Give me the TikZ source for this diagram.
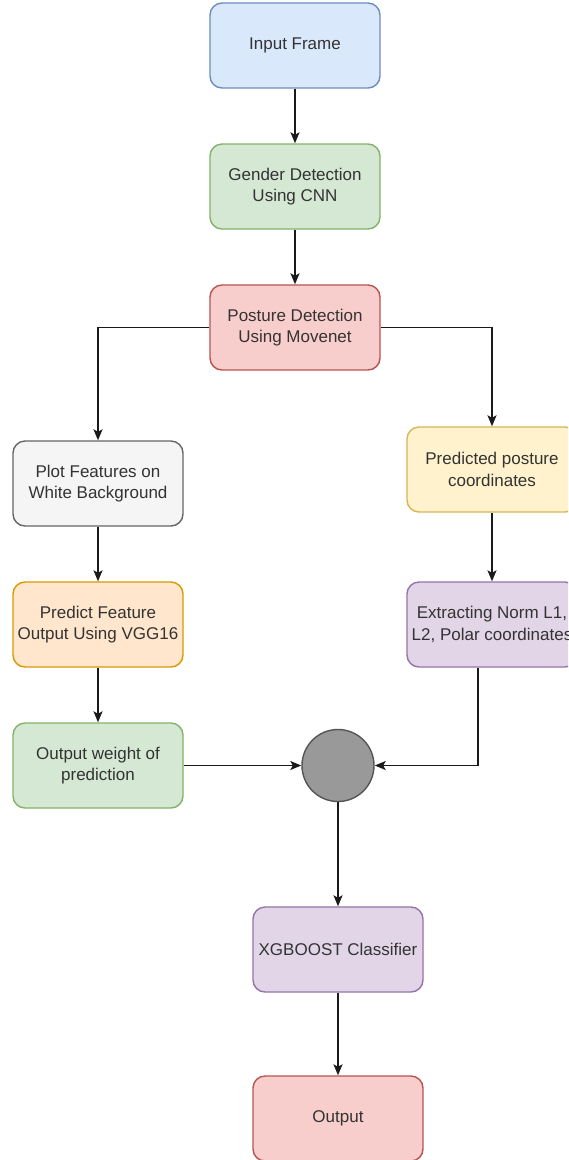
\documentclass[tikz,border=0pt]{standalone}
\usepackage{fontspec}
\setmainfont{Liberation Sans}
\usetikzlibrary{arrows.meta,positioning}

% drawio-style palette
\definecolor{blueF}{HTML}{DAE8FC}\definecolor{blueD}{HTML}{6C8EBF}
\definecolor{greenF}{HTML}{D5E8D4}\definecolor{greenD}{HTML}{82B366}
\definecolor{redF}{HTML}{F8CECC}\definecolor{redD}{HTML}{B85450}
\definecolor{greyF}{HTML}{F5F5F5}\definecolor{greyD}{HTML}{666666}
\definecolor{yellowF}{HTML}{FFF2CC}\definecolor{yellowD}{HTML}{D6B656}
\definecolor{orangeF}{HTML}{FFE6CC}\definecolor{orangeD}{HTML}{D79B00}
\definecolor{purpleF}{HTML}{E1D5E7}\definecolor{purpleD}{HTML}{9673A6}
\definecolor{circF}{HTML}{999999}\definecolor{circD}{HTML}{555555}
\definecolor{txt}{HTML}{333333}
\definecolor{wire}{HTML}{1A1A1A}

\tikzset{
  procbox/.style={draw, line width=1.4pt, rounded corners=12pt,
    minimum width=170pt, minimum height=85pt, inner sep=0pt,
    align=center, text=txt, font=\fontsize{17}{21.5}\selectfont},
  blueBox/.style={procbox, fill=blueF, draw=blueD},
  greenBox/.style={procbox, fill=greenF, draw=greenD},
  redBox/.style={procbox, fill=redF, draw=redD},
  greyBox/.style={procbox, fill=greyF, draw=greyD},
  yellowBox/.style={procbox, fill=yellowF, draw=yellowD},
  orangeBox/.style={procbox, fill=orangeF, draw=orangeD},
  purpleBox/.style={procbox, fill=purpleF, draw=purpleD},
  joinpt/.style={circle, draw=circD, fill=circF, line width=1.4pt,
    minimum size=72pt, inner sep=0pt},
  flow/.style={draw=wire, line width=1.5pt,
    -{Stealth[length=11pt, width=9pt, inset=2.5pt]}},
}

\begin{document}
\begin{tikzpicture}[x=1pt, y=-1pt]
  \useasboundingbox (0,0) rectangle (568,1160);
  \clip (0,0) rectangle (568,1160);
  \fill[white] (0,0) rectangle (568,1160);

  % main column
  \node[blueBox]   (input)   at (295,45.5)  {Input Frame};
  \node[greenBox]  (gender)  at (295,186.5) {Gender Detection\\Using CNN};
  \node[redBox]    (posture) at (295,327.5) {Posture Detection\\Using Movenet};

  % left branch: image features
  \node[greyBox]   (plot)    at (98,483.5)  {Plot Features on\\White Background};
  \node[orangeBox] (vgg)     at (98,624.5)  {Predict Feature\\Output Using VGG16};
  \node[greenBox]  (weight)  at (98,765.5)  {Output weight of\\prediction};

  % right branch: keypoint features
  \node[yellowBox] (coords)  at (492,469.5) {Predicted posture\\coordinates};
  \node[purpleBox] (norms)   at (492,624.5) {Extracting Norm L1,\\L2, Polar coordinates};

  % fusion and classification
  \node[joinpt]    (join)    at (338,765.5) {};
  \node[purpleBox] (xgb)     at (338,949.5) {XGBOOST Classifier};
  \node[redBox]    (out)     at (338,1118.5){Output};

  \coordinate (normsout) at ([xshift=-14pt]norms.south);

  \draw[flow] (input)  -- (gender);
  \draw[flow] (gender) -- (posture);
  \draw[flow] (posture.west) -| (plot.north);
  \draw[flow] (posture.east) -| (coords.north);
  \draw[flow] (plot)   -- (vgg);
  \draw[flow] (vgg)    -- (weight);
  \draw[flow] (coords) -- (norms);
  \draw[flow] (weight.east) -- (join.west);
  \draw[flow] (normsout) |- (join.east);
  \draw[flow] (join.south) -- (xgb.north);
  \draw[flow] (xgb)    -- (out);
\end{tikzpicture}
\end{document}
